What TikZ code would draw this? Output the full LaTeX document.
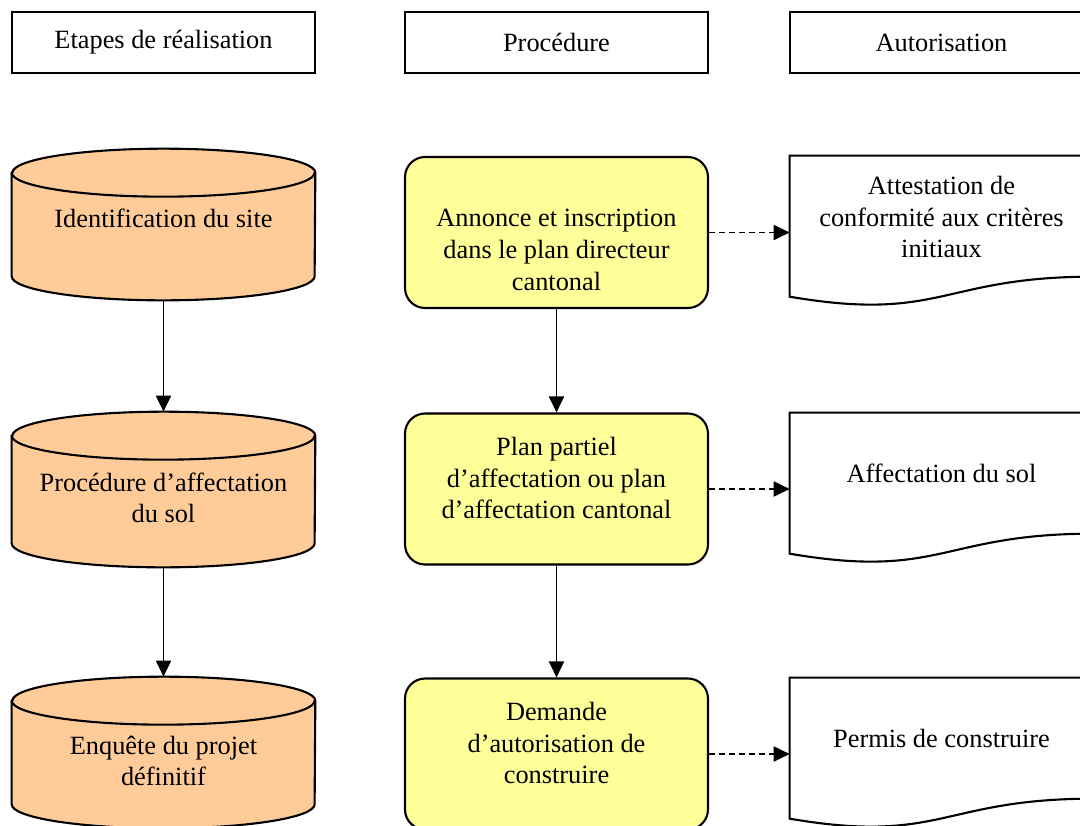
\documentclass[tikz,border=0pt]{standalone}
\usepackage{fontspec}
\setmainfont{Liberation Serif}
\usetikzlibrary{arrows.meta,calc}
\definecolor{peach}{HTML}{FFCC99}
\definecolor{paleyellow}{HTML}{FFFF99}
\tikzset{
  txt/.style={align=center,font=\fontsize{15}{18}\selectfont},
  head/.style={txt,draw,line width=1.2pt,minimum width=6.06cm,minimum height=1.22cm},
  hull/.style={minimum width=6.06cm,minimum height=3.02cm,inner sep=0pt},
  proc/.style={hull,draw,line width=1.2pt,fill=paleyellow,rounded corners=0.4cm},
  flow/.style={line width=1.1pt,-{Triangle[length=0.32cm,width=0.3cm]}},
  dflow/.style={flow,dash pattern=on 0.12cm off 0.08cm},
}
% drum shape round an empty node
\newcommand\drum[1]{%
  \filldraw[line width=1.2pt,fill=peach] ($(#1.north west)+(0,24)$) -- ($(#1.south west)+(0,-24)$)
    arc[start angle=180,end angle=360,x radius=3.03cm,y radius=0.48cm] -- ($(#1.north east)+(0,24)$)
    arc[start angle=0,end angle=180,x radius=3.03cm,y radius=0.48cm] -- cycle;
  \draw[line width=1.2pt] ($(#1.north west)+(0,24)$) arc[start angle=180,end angle=360,x radius=3.03cm,y radius=0.48cm];}
% document shape round an empty node
\newcommand\sheet[1]{%
  \filldraw[line width=1.2pt,fill=white] (#1.north west) -- (#1.north east) -- ($(#1.north east)+(0,121)$)
    .. controls ($(#1.north)+(0,121)$) and ($(#1.north)+(0,167)$) .. ($(#1.north west)+(0,141)$) -- cycle;}
\begin{document}
\begin{tikzpicture}[x=0.02cm,y=-0.02cm]
\useasboundingbox[fill=white] (0,0) rectangle (1080,826);

% column heads
\node[head] (Head1) at (163.5,42.5) {Etapes de réalisation};
\node[head] (Head2) at (556.5,42.5) {Procédure};
\node[head] (Head3) at (941.5,42.5) {Autorisation};

% etapes
\node[hull] (Step1) at (163.5,224.5) {}; \drum{Step1}
\node[hull,minimum height=3.1cm] (Step2) at (163.5,489.5) {}; \drum{Step2}
\node[hull] (Step3) at (163.5,752.5) {}; \drum{Step3}
\node[txt] (Step1Label) at (163.5,218) {Identification du site};
\node[txt] (Step2Label) at (163.5,498) {Procédure d’affectation\\du sol};
\node[txt] (Step3Label) at (163.5,761) {Enquête du projet\\définitif};

% procedure
\node[proc] (Proc1) at (556.5,232.5) {};
\node[proc] (Proc2) at (556.5,489) {};
\node[proc] (Proc3) at (556.5,754) {};
\node[txt] (Proc1Label) at (556.5,250) {Annonce et inscription\\dans le plan directeur\\cantonal};
\node[txt] (Proc2Label) at (556.5,478) {Plan partiel\\d’affectation ou plan\\d’affectation cantonal};
\node[txt] (Proc3Label) at (556.5,743) {Demande\\d’autorisation de\\construire};

% autorisation
\node[hull] (Auth1) at (941.5,231.5) {}; \sheet{Auth1}
\node[hull] (Auth2) at (941.5,488.5) {}; \sheet{Auth2}
\node[hull] (Auth3) at (941.5,753.5) {}; \sheet{Auth3}
\node[txt] (Auth1Label) at (941.5,217) {Attestation de\\conformité aux critères\\initiaux};
\node[txt] (Auth2Label) at (941.5,473) {Affectation du sol};
\node[txt] (Auth3Label) at (941.5,738) {Permis de construire};

% connectors
\draw[flow] (Step1.south) -- (Step2.north);
\draw[flow] (Step2.south) -- (Step3.north);
\draw[flow] (Proc1.south) -- (Proc2.north);
\draw[flow] (Proc2.south) -- (Proc3.north);
\foreach \i in {1,2,3} \draw[dflow] (Proc\i.east) -- (Proc\i.east -| Auth\i.west);
\end{tikzpicture}
\end{document}
